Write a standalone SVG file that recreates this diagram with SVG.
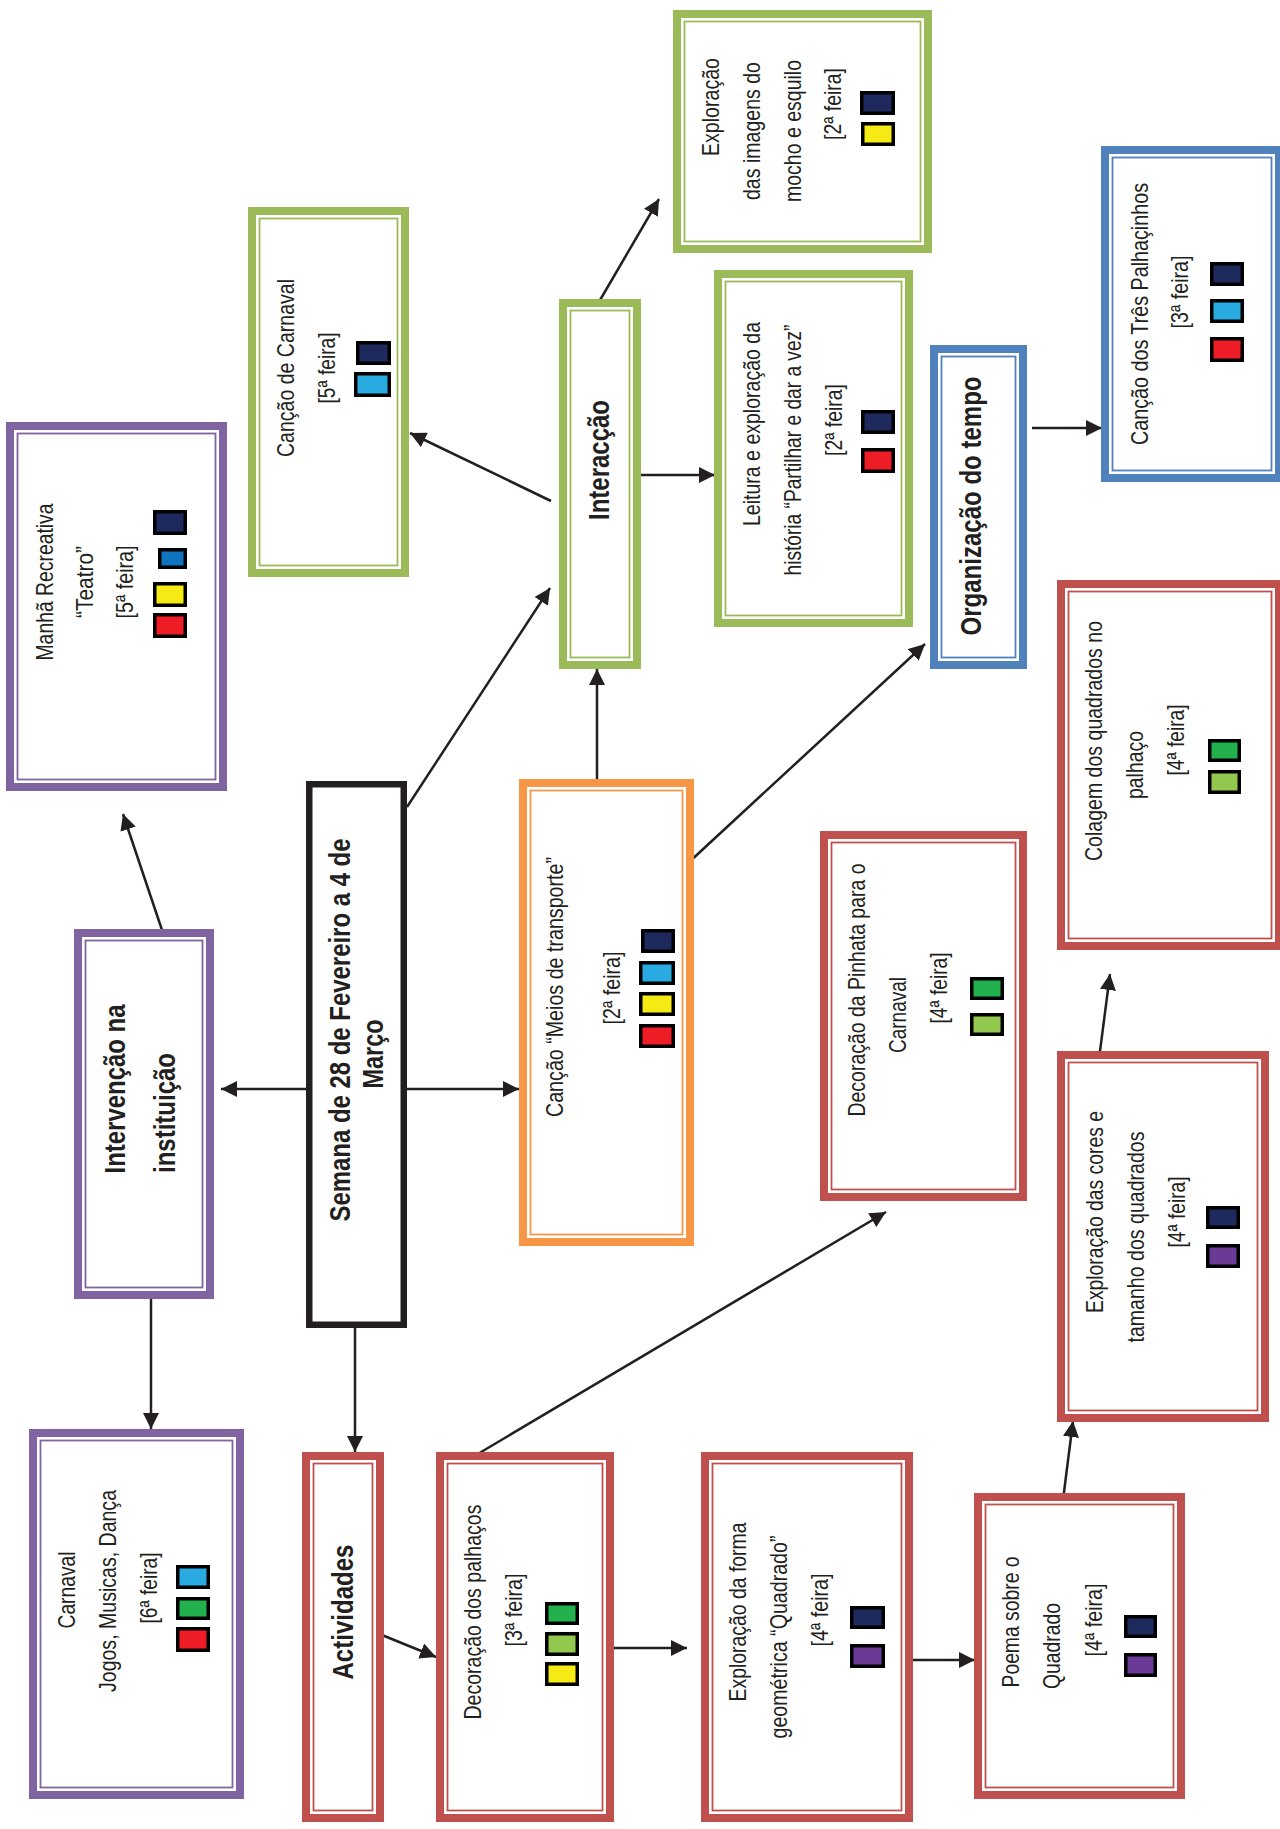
<svg xmlns="http://www.w3.org/2000/svg" width="1280" height="1829" viewBox="0 0 1280 1829">
<style>
.bg{fill:#ffffff}
.o{fill:#fff;stroke-width:8}
.i{fill:none;stroke-width:1.8}
.pu{stroke:#8064a2}
.gr{stroke:#9bbb59}
.bl{stroke:#4f81bd}
.rd{stroke:#c0504d}
.or{stroke:#f79646}
.blk{fill:#fff;stroke:#231f20;stroke-width:6.5}
.t{font-family:"Liberation Sans Narrow","Liberation Sans",Arial,sans-serif;font-size:24px;fill:#231f20;text-anchor:middle}
.b{font-family:"Liberation Sans Narrow","Liberation Sans",Arial,sans-serif;font-size:30px;font-weight:bold;fill:#231f20;text-anchor:middle}
.sq{stroke:#000;stroke-width:3.5}
.nv{fill:#1e2a5e}
.lb{fill:#29abe2}
.mb{fill:#1174c0}
.ye{fill:#f5ea14}
.re{fill:#ee1c24}
.gn{fill:#22b14c}
.lg{fill:#92c84e}
.pp{fill:#6b3a96}
.c{fill:none;stroke:#231f20;stroke-width:2.5;marker-end:url(#ah)}
</style>
<defs>
<marker id="ah" markerUnits="userSpaceOnUse" markerWidth="16" markerHeight="16" refX="16" refY="8" orient="auto">
<path d="M0,0 L16,8 L0,16 z" fill="#231f20"/>
</marker>
</defs>
<rect class="bg" x="0" y="0" width="1280" height="1829"/>

<g id="connectors">
<path class="c" d="M306,1089 L221,1089"/>
<path class="c" d="M407,1089 L519,1089"/>
<path class="c" d="M355,1328 L355,1452"/>
<path class="c" d="M151,1299 L151,1429"/>
<path class="c" d="M164,936 L123,814"/>
<path class="c" d="M407,807 L550,588"/>
<path class="c" d="M551,501 L410,433"/>
<path class="c" d="M596,307 L659,199"/>
<path class="c" d="M641,475 L715,475"/>
<path class="c" d="M597,779 L597,669"/>
<path class="c" d="M687,864 L925,644"/>
<path class="c" d="M1032,428 L1102,428"/>
<path class="c" d="M471,1458 L886,1212"/>
<path class="c" d="M377,1633 L436,1657"/>
<path class="c" d="M614,1648 L687,1648"/>
<path class="c" d="M913,1660 L975,1660"/>
<path class="c" d="M1063,1500 L1073,1421"/>
<path class="c" d="M1099,1059 L1110,974"/>
</g>

<g id="manha">
<rect class="o pu" x="10" y="426" width="213" height="361"/>
<rect class="i pu" x="17.5" y="433.5" width="198" height="346"/>
<text class="t" transform="translate(53,582) rotate(-90)" textLength="157" lengthAdjust="spacingAndGlyphs">Manhã Recreativa</text>
<text class="t" transform="translate(93,582) rotate(-90)" textLength="72" lengthAdjust="spacingAndGlyphs">“Teatro”</text>
<text class="t" transform="translate(133,582) rotate(-90)" textLength="73" lengthAdjust="spacingAndGlyphs">[5ª feira]</text>
<rect class="sq nv" x="154.75" y="511.75" width="30.5" height="21.5"/>
<rect class="sq mb" x="159.75" y="549.75" width="25.5" height="17.5"/>
<rect class="sq ye" x="154.75" y="583.75" width="30.5" height="21.5"/>
<rect class="sq re" x="154.75" y="614.75" width="30.5" height="21.5"/>
</g>

<g id="cancao-carnaval">
<rect class="o gr" x="252" y="211" width="153" height="362"/>
<rect class="i gr" x="259.5" y="218.5" width="138" height="347"/>
<text class="t" transform="translate(294,368) rotate(-90)" textLength="178" lengthAdjust="spacingAndGlyphs">Canção de Carnaval</text>
<text class="t" transform="translate(335,368) rotate(-90)" textLength="71" lengthAdjust="spacingAndGlyphs">[5ª feira]</text>
<rect class="sq nv" x="357.75" y="342.75" width="31.5" height="20.5"/>
<rect class="sq lb" x="355.75" y="373.75" width="33.5" height="21.5"/>
</g>

<g id="imagens">
<rect class="o gr" x="677" y="14" width="251" height="235"/>
<rect class="i gr" x="684.5" y="21.5" width="236" height="220"/>
<text class="t" transform="translate(719,107) rotate(-90)" textLength="98" lengthAdjust="spacingAndGlyphs">Exploração</text>
<text class="t" transform="translate(760,131) rotate(-90)" textLength="138" lengthAdjust="spacingAndGlyphs">das imagens do</text>
<text class="t" transform="translate(801,131) rotate(-90)" textLength="142" lengthAdjust="spacingAndGlyphs">mocho e esquilo</text>
<text class="t" transform="translate(841,104) rotate(-90)" textLength="72" lengthAdjust="spacingAndGlyphs">[2ª feira]</text>
<rect class="sq nv" x="861.75" y="92.75" width="31.5" height="20.5"/>
<rect class="sq ye" x="862.75" y="123.75" width="30.5" height="20.5"/>
</g>

<g id="interaccao">
<rect class="o gr" x="563" y="303" width="74" height="362"/>
<rect class="i gr" x="570.5" y="310.5" width="59" height="347"/>
<text class="b" transform="translate(609,460) rotate(-90)" textLength="120" lengthAdjust="spacingAndGlyphs">Interacção</text>
</g>

<g id="leitura">
<rect class="o gr" x="718" y="274" width="191" height="349"/>
<rect class="i gr" x="725.5" y="281.5" width="176" height="334"/>
<text class="t" transform="translate(760,424) rotate(-90)" textLength="204" lengthAdjust="spacingAndGlyphs">Leitura e exploração da</text>
<text class="t" transform="translate(801,450) rotate(-90)" textLength="251" lengthAdjust="spacingAndGlyphs">história “Partilhar e dar a vez”</text>
<text class="t" transform="translate(842,420) rotate(-90)" textLength="72" lengthAdjust="spacingAndGlyphs">[2ª feira]</text>
<rect class="sq nv" x="862.75" y="411.75" width="30.5" height="20.5"/>
<rect class="sq re" x="862.75" y="449.75" width="30.5" height="21.5"/>
</g>

<g id="organizacao">
<rect class="o bl" x="934" y="349" width="89" height="316"/>
<rect class="i bl" x="941.5" y="356.5" width="74" height="301"/>
<text class="b" transform="translate(981,506) rotate(-90)" textLength="259" lengthAdjust="spacingAndGlyphs">Organização do tempo</text>
</g>

<g id="tres-palhacinhos">
<rect class="o bl" x="1105" y="150" width="174" height="328"/>
<rect class="i bl" x="1112.5" y="157.5" width="159" height="313"/>
<text class="t" transform="translate(1148,314) rotate(-90)" textLength="262" lengthAdjust="spacingAndGlyphs">Canção dos  Três Palhaçinhos</text>
<text class="t" transform="translate(1188,292) rotate(-90)" textLength="73" lengthAdjust="spacingAndGlyphs">[3ª feira]</text>
<rect class="sq nv" x="1211.75" y="263.75" width="30.5" height="20.5"/>
<rect class="sq lb" x="1211.75" y="300.75" width="30.5" height="20.5"/>
<rect class="sq re" x="1211.75" y="338.75" width="30.5" height="21.5"/>
</g>

<g id="colagem">
<rect class="o rd" x="1061" y="584" width="218" height="362"/>
<rect class="i rd" x="1068.5" y="591.5" width="203" height="347"/>
<text class="t" transform="translate(1102,741) rotate(-90)" textLength="240" lengthAdjust="spacingAndGlyphs">Colagem dos quadrados no</text>
<text class="t" transform="translate(1143,765) rotate(-90)" textLength="68" lengthAdjust="spacingAndGlyphs">palhaço</text>
<text class="t" transform="translate(1184,740) rotate(-90)" textLength="71" lengthAdjust="spacingAndGlyphs">[4ª feira]</text>
<rect class="sq gn" x="1209.75" y="740.75" width="29.5" height="19.5"/>
<rect class="sq lg" x="1209.75" y="771.75" width="29.5" height="20.5"/>
</g>

<g id="pinhata">
<rect class="o rd" x="824" y="835" width="199" height="362"/>
<rect class="i rd" x="831.5" y="842.5" width="184" height="347"/>
<text class="t" transform="translate(865,990) rotate(-90)" textLength="253" lengthAdjust="spacingAndGlyphs">Decoração da Pinhata para o</text>
<text class="t" transform="translate(906,1015) rotate(-90)" textLength="76" lengthAdjust="spacingAndGlyphs">Carnaval</text>
<text class="t" transform="translate(947,988) rotate(-90)" textLength="71" lengthAdjust="spacingAndGlyphs">[4ª feira]</text>
<rect class="sq gn" x="971.75" y="978.75" width="30.5" height="19.5"/>
<rect class="sq lg" x="971.75" y="1014.75" width="30.5" height="19.5"/>
</g>

<g id="cores">
<rect class="o rd" x="1061" y="1055" width="204" height="363"/>
<rect class="i rd" x="1068.5" y="1062.5" width="189" height="348"/>
<text class="t" transform="translate(1103,1212) rotate(-90)" textLength="202" lengthAdjust="spacingAndGlyphs">Exploração das cores e</text>
<text class="t" transform="translate(1144,1237) rotate(-90)" textLength="211" lengthAdjust="spacingAndGlyphs">tamanho dos quadrados</text>
<text class="t" transform="translate(1185,1212) rotate(-90)" textLength="71" lengthAdjust="spacingAndGlyphs">[4ª feira]</text>
<rect class="sq nv" x="1207.75" y="1207.75" width="30.5" height="19.5"/>
<rect class="sq pp" x="1207.75" y="1245.75" width="30.5" height="20.5"/>
</g>

<g id="poema">
<rect class="o rd" x="978" y="1497" width="203" height="298"/>
<rect class="i rd" x="985.5" y="1504.5" width="188" height="283"/>
<text class="t" transform="translate(1019,1622) rotate(-90)" textLength="131" lengthAdjust="spacingAndGlyphs">Poema  sobre o</text>
<text class="t" transform="translate(1060,1646) rotate(-90)" textLength="86" lengthAdjust="spacingAndGlyphs">Quadrado</text>
<text class="t" transform="translate(1102,1620) rotate(-90)" textLength="73" lengthAdjust="spacingAndGlyphs">[4ª feira]</text>
<rect class="sq nv" x="1125.75" y="1616.75" width="29.5" height="19.5"/>
<rect class="sq pp" x="1125.75" y="1654.75" width="29.5" height="20.5"/>
</g>

<g id="forma">
<rect class="o rd" x="705" y="1456" width="204" height="362"/>
<rect class="i rd" x="712.5" y="1463.5" width="189" height="347"/>
<text class="t" transform="translate(746,1612) rotate(-90)" textLength="179" lengthAdjust="spacingAndGlyphs">Exploração da forma</text>
<text class="t" transform="translate(787,1637) rotate(-90)" textLength="203" lengthAdjust="spacingAndGlyphs">geométrica “Quadrado”</text>
<text class="t" transform="translate(828,1610) rotate(-90)" textLength="73" lengthAdjust="spacingAndGlyphs">[4ª feira]</text>
<rect class="sq nv" x="851.75" y="1607.75" width="31.5" height="19.5"/>
<rect class="sq pp" x="851.75" y="1645.75" width="31.5" height="20.5"/>
</g>

<g id="palhacos">
<rect class="o rd" x="440" y="1456" width="170" height="362"/>
<rect class="i rd" x="447.5" y="1463.5" width="155" height="347"/>
<text class="t" transform="translate(481,1612) rotate(-90)" textLength="215" lengthAdjust="spacingAndGlyphs">Decoração dos palhaços</text>
<text class="t" transform="translate(522,1610) rotate(-90)" textLength="73" lengthAdjust="spacingAndGlyphs">[3ª feira]</text>
<rect class="sq gn" x="546.75" y="1603.75" width="30.5" height="19.5"/>
<rect class="sq lg" x="546.75" y="1633.75" width="30.5" height="20.5"/>
<rect class="sq ye" x="546.75" y="1663.75" width="30.5" height="20.5"/>
</g>

<g id="actividades">
<rect class="o rd" x="306" y="1456" width="74" height="362"/>
<rect class="i rd" x="313.5" y="1463.5" width="59" height="347"/>
<text class="b" transform="translate(353,1612) rotate(-90)" textLength="135" lengthAdjust="spacingAndGlyphs">Actividades</text>
</g>

<g id="carnaval-jogos">
<rect class="o pu" x="33" y="1433" width="207" height="362"/>
<rect class="i pu" x="40.5" y="1440.5" width="192" height="347"/>
<text class="t" transform="translate(75,1590) rotate(-90)" textLength="77" lengthAdjust="spacingAndGlyphs">Carnaval</text>
<text class="t" transform="translate(116,1591) rotate(-90)" textLength="202" lengthAdjust="spacingAndGlyphs">Jogos, Musicas, Dança</text>
<text class="t" transform="translate(157,1588) rotate(-90)" textLength="71" lengthAdjust="spacingAndGlyphs">[6ª feira]</text>
<rect class="sq lb" x="177.75" y="1566.75" width="30.5" height="20.5"/>
<rect class="sq gn" x="177.75" y="1598.75" width="30.5" height="19.5"/>
<rect class="sq re" x="177.75" y="1628.75" width="30.5" height="21.5"/>
</g>

<g id="intervencao">
<rect class="o pu" x="78" y="933" width="132" height="362"/>
<rect class="i pu" x="85.5" y="940.5" width="117" height="347"/>
<text class="b" transform="translate(125,1089) rotate(-90)" textLength="169" lengthAdjust="spacingAndGlyphs">Intervenção na</text>
<text class="b" transform="translate(175,1113) rotate(-90)" textLength="120" lengthAdjust="spacingAndGlyphs">instituição</text>
</g>

<g id="semana">
<rect class="blk" x="309.25" y="784.25" width="94.5" height="540.5"/>
<text class="b" transform="translate(350,1030) rotate(-90)" textLength="383" lengthAdjust="spacingAndGlyphs">Semana de 28 de Fevereiro a 4 de</text>
<text class="b" transform="translate(383,1054) rotate(-90)" textLength="69" lengthAdjust="spacingAndGlyphs">Março</text>
</g>

<g id="meios">
<rect class="o or" x="523" y="783" width="167" height="459"/>
<rect class="i or" x="530.5" y="790.5" width="152" height="444"/>
<text class="t" transform="translate(563,987) rotate(-90)" textLength="260" lengthAdjust="spacingAndGlyphs">Canção  “Meios de transporte”</text>
<text class="t" transform="translate(620,988) rotate(-90)" textLength="73" lengthAdjust="spacingAndGlyphs">[2ª feira]</text>
<rect class="sq nv" x="642.75" y="930.75" width="30.5" height="20.5"/>
<rect class="sq lb" x="640.75" y="962.75" width="32.5" height="20.5"/>
<rect class="sq ye" x="640.75" y="993.75" width="32.5" height="20.5"/>
<rect class="sq re" x="640.75" y="1025.75" width="32.5" height="20.5"/>
</g>
</svg>
